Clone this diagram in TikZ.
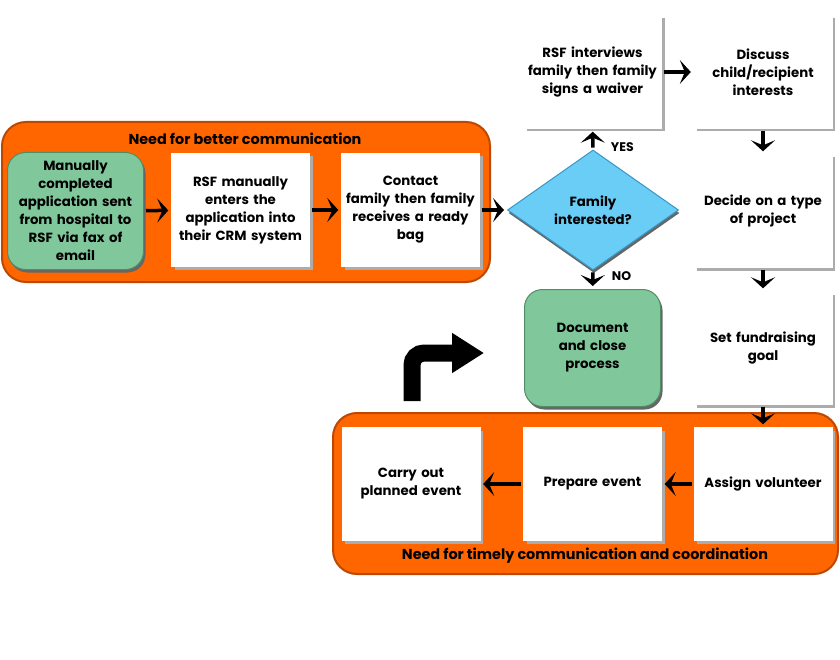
\documentclass[tikz,border=0pt]{standalone}
\usepackage{fontspec}
\setmainfont{Poppins}
\usetikzlibrary{shapes.geometric,arrows.meta,shadows}
\definecolor{panelorange}{RGB}{255,102,0}
\definecolor{paneledge}{RGB}{190,72,0}
\definecolor{stepgreen}{RGB}{128,200,155}
\definecolor{greenedge}{RGB}{80,140,100}
\definecolor{askblue}{RGB}{105,205,245}
\definecolor{blueedge}{RGB}{55,150,200}
\begin{document}
\begin{tikzpicture}[x=1pt,y=-1pt,font=\fontsize{13.3}{18}\selectfont\bfseries,
    panel/.style={fill=panelorange,draw=paneledge,line width=2pt,rounded corners=24pt,minimum width=#1,inner sep=0pt},
    whitebox/.style={fill=white,draw=white,minimum width=138pt,minimum height=113pt,inner sep=0pt,align=center,text width=134pt,
        drop shadow={shadow xshift=3pt,shadow yshift=-3pt,fill=gray!65,opacity=1}},
    greenbox/.style={fill=stepgreen,draw=greenedge,line width=1pt,rounded corners=18pt,minimum width=136pt,minimum height=117pt,inner sep=0pt,align=center,text width=132pt,
        drop shadow={shadow xshift=2pt,shadow yshift=-3pt,fill=gray!80!black,opacity=1}},
    flow/.style={line width=3.5pt,-{Stealth[length=11pt,width=24pt,inset=5pt]},shorten >=3pt,shorten <=2pt},
    answer/.style={font=\fontsize{12.5}{14}\selectfont\bfseries},
    paneltitle/.style={font=\fontsize{14.4}{18}\selectfont\bfseries}]
\useasboundingbox (0,0) rectangle (840,660);
\fill[white] (0,0) rectangle (840,660);
% orange panels
\node[panel=488pt,minimum height=160pt] (toppanel) at (246,202) {};
\node[panel=505pt,minimum height=161pt] (botpanel) at (585.5,493.5) {};
\node[paneltitle] (toptitle) at (245,139) {Need for better communication};
\node[paneltitle] (bottitle) at (585,556) {Need for timely communication and coordination};
% top row
\node[greenbox] (manual) at (75.5,211) {Manually\\completed\\application sent\\from hospital to\\RSF via fax of\\email};
\node[whitebox] (enter) at (240.5,210) {RSF manually\\enters the\\application into\\their CRM system};
\node[whitebox] (contact) at (410.5,210) {Contact\\family then family\\receives a ready\\bag};
\node[diamond,aspect=1.42,fill=askblue,draw=blueedge,line width=1pt,minimum width=171pt,minimum height=120pt,inner sep=0pt,align=center,
    drop shadow={shadow xshift=1pt,shadow yshift=-3pt,fill=gray!80!black,opacity=1}] (ask) at (593,210) {Family\\interested?};
\node[whitebox] (interview) at (592.5,72) {RSF interviews\\family then family\\signs a waiver};
\node[whitebox] (discuss) at (763,72) {Discuss\\child/recipient\\interests};
\node[whitebox] (decide) at (763,211) {Decide on a type\\of project};
\node[greenbox] (close) at (592.5,348) {Document\\and close\\process};
\node[whitebox] (goal) at (763,348) {Set fundraising\\goal};
% bottom row
\node[whitebox] (assign) at (763,484) {Assign volunteer\\[4pt]};
\node[whitebox] (prepare) at (592.5,484) {Prepare event};
\node[whitebox] (carry) at (411,484) {Carry out\\planned event};
% connectors
\draw[flow] (manual) -- (enter);
\draw[flow] (enter) -- (contact);
\draw[flow] (contact) -- (ask);
\draw[flow] (ask) -- node[answer,pos=0.1,right=13pt]{YES} (interview);
\draw[flow] (ask) -- node[answer,pos=0.3,right=14pt]{NO} (close);
\draw[flow] (interview) -- (discuss);
\draw[flow] (discuss) -- (decide);
\draw[flow] (decide) -- (goal);
\draw[flow] (goal) -- (assign);
\draw[flow] (assign) -- (prepare);
\draw[flow] (prepare) -- (carry);
% bent arrow
\draw[line width=17pt,rounded corners=12pt,-{Triangle[length=32pt,width=38pt]}] (412,401) -- (412,353) -- (484,353);
\end{tikzpicture}
\end{document}
